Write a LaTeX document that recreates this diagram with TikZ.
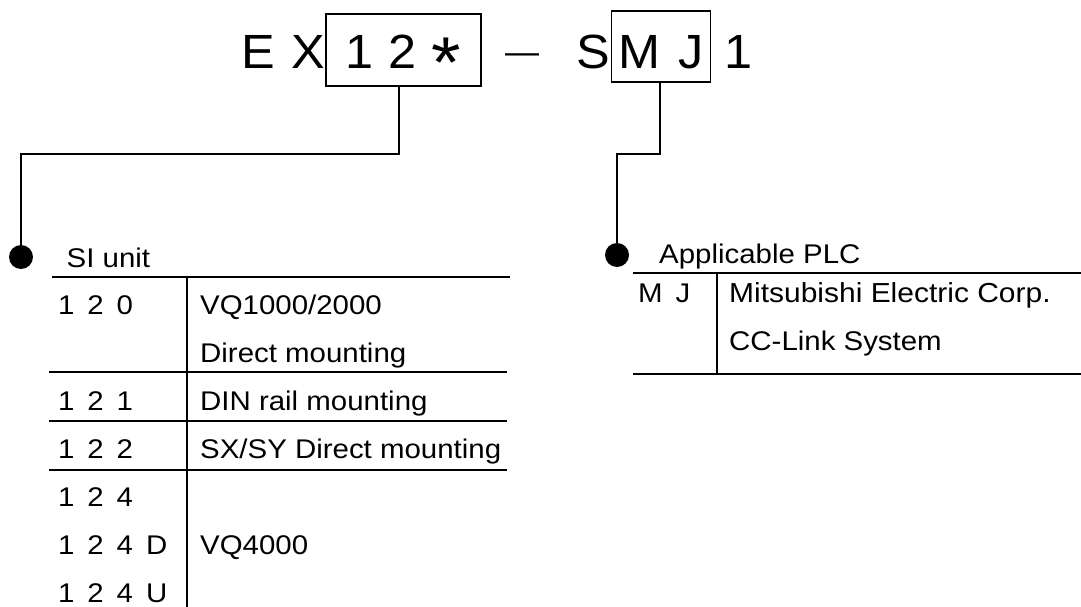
\documentclass[tikz,border=0pt]{standalone}
\usepackage{graphicx}
\usepackage{fontspec}
\setmainfont{Liberation Sans}
\newfontfamily\topfont{Liberation Sans}[FakeStretch=1.05]
\newfontfamily\tabfont{Liberation Sans}[FakeStretch=1.09]
\newcommand\wsp[1]{\spaceskip=#1\relax}
\begin{document}
\begin{tikzpicture}[x=1pt,y=-1pt,
  big/.style={font=\topfont\fontsize{48}{52}\selectfont, inner sep=0pt, anchor=base west},
  txt/.style={font=\tabfont\fontsize{27}{30}\selectfont, inner sep=0pt, anchor=base west},
  code/.style={font=\tabfont\fontsize{27}{30}\selectfont, inner sep=0pt, anchor=base west},
  codebox/.style={draw, line width=1.5pt, inner sep=0pt, font=\topfont\fontsize{48}{52}\selectfont},
  rule/.style={line width=1.8pt},
  conn/.style={line width=1.8pt},
  dot/.style={circle, fill=black, minimum size=24pt, inner sep=0pt}]
\fill[white] (0,0) rectangle (1081,607);
\useasboundingbox (0,0) rectangle (1081,607);

% top model code
\node[big] (ex) at (241,69) {\wsp{17pt}E X};
\node[codebox, minimum width=155pt, minimum height=72pt, text height=38pt, text depth=0pt] (b1) at (403.5,50)
      {\wsp{15pt}1 2 \raisebox{-19pt}[0pt][0pt]{\scalebox{1.5}{*}}};
\node[inner sep=0pt, anchor=base west, font=\fontsize{34}{36}\selectfont] (dash) at (505,64) {—};
\node[big] (s) at (576,69) {S};
\node[codebox, minimum width=99pt, minimum height=71pt, text height=45pt, text depth=0pt] (b2) at (661,46.5) {\wsp{18pt}M J};
\node[big] (one) at (724,69) {1};

% connectors
\node[dot] (d1) at (21,257) {};
\coordinate (c1) at (21,154);
\draw[conn] ([xshift=-4.5pt]b1.south) |- (c1) -- (d1);
\node[dot] (d2) at (617,255) {};
\coordinate (c2) at (617,154);
\draw[conn] ([xshift=-1pt]b2.south) |- (c2) -- (d2);

% left table
\node[txt] (siunit) at (66.5,267) {SI unit};
\draw[rule] (52,277) -- (510,277);
\draw[rule] (187,277) -- (187,607);
\draw[rule] (49,372) -- (507,372);
\draw[rule] (49,421) -- (507,421);
\draw[rule] (49,470) -- (507,470);
\node[code] (r120) at (57.8,314) {\wsp{13pt}1 2 0};
\node[txt] (t120a) at (200,314) {VQ1000/2000};
\node[txt] (t120b) at (200,362) {Direct mounting};
\node[code] (r121) at (57.8,410) {\wsp{13pt}1 2 1};
\node[txt] (t121) at (200,410) {DIN rail mounting};
\node[code] (r122) at (57.8,458) {\wsp{13pt}1 2 2};
\node[txt] (t122) at (200,458) {SX/SY Direct mounting};
\node[code] (r124) at (57.8,506) {\wsp{13pt}1 2 4};
\node[code] (r124d) at (57.8,554) {\wsp{13pt}1 2 4 D};
\node[txt] (t124) at (200,554) {VQ4000};
\node[code] (r124u) at (57.8,602) {\wsp{13pt}1 2 4 U};

% right table
\node[txt] (plc) at (659,263) {Applicable PLC};
\draw[rule] (633,273) -- (1081,273);
\draw[rule] (717,273) -- (717,375);
\draw[rule] (633,374) -- (1081,374);
\node[code] (rmj) at (638,302) {\wsp{13pt}M J};
\node[txt, font=\tabfont\fontsize{27.5}{30}\selectfont] (tmj1) at (729,302) {Mitsubishi Electric Corp.};
\node[txt] (tmj2) at (729,350) {CC-Link System};
\end{tikzpicture}
\end{document}
